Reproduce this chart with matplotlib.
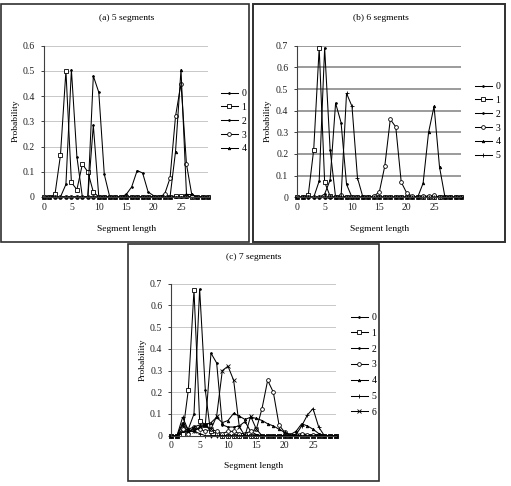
import numpy as np
import matplotlib
matplotlib.use('Agg')
import matplotlib.pyplot as plt
from matplotlib.patches import Rectangle

plt.rcParams['font.family'] = ['Liberation Serif', 'DejaVu Serif']
plt.rcParams['font.size'] = 6

# ---- data ----
x_ab = np.arange(0, 31)   # panels (a) and (b)
x_c = np.arange(0, 30)    # panel (c)

# (a) 5 segments
a0 = [0, 0, 0, 0, 0.05, 0.505, 0.16, 0, 0, 0.285, 0, 0, 0, 0, 0, 0, 0, 0, 0, 0, 0, 0, 0, 0, 0, 0, 0, 0, 0, 0, 0]
a1 = [0, 0, 0.01, 0.165, 0.5, 0.058, 0.029, 0.13, 0.10, 0.02, 0, 0, 0, 0, 0, 0, 0, 0, 0, 0, 0, 0, 0, 0, 0.005, 0.005, 0.005, 0, 0, 0, 0]
a2 = [0, 0, 0, 0, 0, 0, 0, 0, 0, 0.48, 0.415, 0.09, 0, 0, 0, 0.01, 0.04, 0.105, 0.095, 0.02, 0.005, 0, 0.01, 0, 0, 0, 0, 0, 0, 0, 0]
a3 = [0, 0, 0, 0, 0, 0, 0, 0, 0, 0, 0, 0, 0, 0, 0, 0, 0, 0, 0, 0, 0, 0, 0.01, 0.075, 0.32, 0.45, 0.13, 0.005, 0, 0, 0]
a4 = [0, 0, 0, 0, 0, 0, 0, 0, 0, 0, 0, 0, 0, 0, 0, 0, 0, 0, 0, 0, 0, 0, 0, 0, 0.18, 0.505, 0.01, 0.01, 0, 0, 0]

# (b) 6 segments
b0 = [0, 0, 0, 0, 0.075, 0.69, 0.22, 0, 0, 0, 0, 0, 0, 0, 0, 0, 0, 0, 0, 0, 0, 0, 0, 0, 0, 0, 0, 0, 0, 0, 0]
b1 = [0, 0, 0.01, 0.22, 0.69, 0.07, 0.005, 0, 0, 0, 0, 0, 0, 0, 0, 0, 0, 0, 0, 0, 0, 0, 0, 0, 0, 0, 0, 0, 0, 0, 0]
b2 = [0, 0, 0, 0, 0, 0.015, 0.08, 0.435, 0.345, 0.06, 0, 0, 0, 0, 0, 0, 0, 0, 0, 0, 0, 0, 0, 0, 0, 0, 0, 0, 0, 0, 0]
b3 = [0, 0, 0, 0, 0, 0, 0, 0, 0.01, 0, 0, 0, 0, 0, 0.005, 0.025, 0.145, 0.36, 0.325, 0.07, 0.02, 0.005, 0, 0.005, 0.005, 0.01, 0, 0, 0, 0, 0]
b4 = [0, 0, 0, 0, 0, 0, 0, 0, 0, 0, 0, 0, 0, 0, 0, 0, 0, 0, 0, 0, 0, 0, 0, 0.065, 0.30, 0.42, 0.14, 0, 0, 0, 0]
b5 = [0, 0, 0, 0, 0, 0, 0, 0, 0, 0.48, 0.42, 0.09, 0, 0, 0, 0, 0, 0, 0, 0, 0, 0, 0, 0, 0, 0, 0, 0, 0, 0, 0]

# (c) 7 segments
c0 = [0, 0, 0.02, 0.03, 0.10, 0.675, 0.21, 0, 0, 0, 0, 0, 0, 0, 0, 0, 0, 0, 0, 0, 0, 0, 0, 0, 0, 0, 0, 0, 0, 0]
c1 = [0, 0, 0.01, 0.21, 0.67, 0.07, 0.05, 0.02, 0.01, 0, 0, 0, 0, 0, 0, 0, 0, 0, 0, 0, 0, 0, 0, 0, 0, 0, 0, 0, 0, 0]
c2 = [0, 0, 0.02, 0.02, 0.03, 0.03, 0.05, 0.38, 0.335, 0.05, 0.04, 0.04, 0.045, 0.065, 0.02, 0.005, 0, 0, 0, 0, 0, 0, 0, 0, 0, 0, 0, 0, 0, 0]
c3 = [0, 0, 0.03, 0.01, 0.04, 0.03, 0.02, 0.03, 0.02, 0.01, 0.02, 0.02, 0.01, 0.01, 0.02, 0.03, 0.125, 0.255, 0.2, 0.05, 0.015, 0.005, 0.005, 0.01, 0.005, 0.005, 0.005, 0, 0, 0]
c4 = [0, 0, 0.06, 0.03, 0.04, 0.05, 0.05, 0.06, 0.085, 0.06, 0.07, 0.103, 0.09, 0.075, 0.085, 0.08, 0.07, 0.055, 0.045, 0.03, 0.015, 0.005, 0.02, 0.055, 0.045, 0.03, 0.01, 0, 0, 0]
c5 = [0, 0, 0.085, 0.025, 0.02, 0.01, 0, 0, 0, 0, 0, 0, 0, 0, 0, 0, 0, 0, 0, 0, 0, 0, 0.005, 0.045, 0.095, 0.125, 0.04, 0, 0, 0]
c6 = [0, 0, 0.05, 0.02, 0.02, 0.04, 0.05, 0.03, 0.09, 0.30, 0.32, 0.255, 0.04, 0.0, 0.09, 0.03, 0, 0, 0, 0, 0, 0, 0, 0, 0, 0, 0, 0, 0, 0]

labels = ['0', '1', '2', '3', '4', '5', '6']
markers = ['.', 's', '.', 'o', '^', '+', 'x']
msizes = [2.5, 2.7, 2.5, 2.7, 1.8, 3.5, 3]

W, H = 511, 486
fig = plt.figure(figsize=(W / 100, H / 100), dpi=100)


def px_axes(x0, x1, ytop, ybot):
    # pixel box (from top-left) -> figure axes
    return fig.add_axes([x0 / W, 1 - ybot / H, (x1 - x0) / W, (ybot - ytop) / H])


def px(x, y):
    return x / W, 1 - y / H


def style(ax, x, series, ymax, xmax, grid_col, grid_lw):
    for i, s in enumerate(series):
        mfc = 'white' if markers[i] in ('s', 'o') else 'black'
        ax.plot(x, s, color='black', lw=0.75, marker=markers[i], ms=msizes[i],
                mfc=mfc, mec='black', mew=0.6, label=labels[i], clip_on=False)
    ax.set_xlim(0, xmax)
    ax.set_ylim(0, ymax)
    ax.set_yticks(np.arange(0, ymax + 0.001, 0.1))
    ax.set_yticklabels(['0'] + ['%.1f' % v for v in np.arange(0.1, ymax + 0.001, 0.1)])
    ax.set_xticks([0, 5, 10, 15, 20, 25])
    ax.yaxis.grid(True, color=grid_col, lw=grid_lw)
    ax.set_axisbelow(True)
    for sp in ['top', 'right']:
        ax.spines[sp].set_visible(False)
    ax.spines['left'].set_color('#404040')
    ax.spines['bottom'].set_color('#404040')
    ax.spines['left'].set_linewidth(0.8)
    ax.spines['bottom'].set_linewidth(0.8)
    ax.tick_params(axis='y', length=2.5, width=0.6)
    ax.tick_params(axis='x', length=0)
    ax.tick_params(labelsize=7, pad=4, colors='#202020')


def add_legend(ax, x, y, spacing):
    leg = ax.legend(loc='upper left', bbox_to_anchor=px(x, y), bbox_transform=fig.transFigure,
                    frameon=False, borderpad=0, borderaxespad=0, handlelength=1.7,
                    handletextpad=0.4, labelspacing=spacing, fontsize=7)
    leg.set_zorder(10)


# panel frames
for (x0, y0, x1, y1, lw) in [(1, 4, 249, 242, 1.2), (253, 4, 505, 242, 1.4), (128, 244, 379, 481, 1.2)]:
    fig.patches.append(Rectangle(px(x0, y1), (x1 - x0) / W, (y1 - y0) / H,
                                 transform=fig.transFigure, fill=False,
                                 edgecolor='#303030', lw=lw, zorder=0))

# (a)
ax_a = px_axes(44, 208.4, 45.7, 197)
style(ax_a, x_ab, [a0, a1, a2, a3, a4], 0.6, 30, '#c8c8c8', 0.7)
add_legend(ax_a, 221, 89, 0.5)
fig.text(*px(127, 18), '(a) 5 segments', ha='center', va='center', fontsize=6.8)
fig.text(*px(16, 121), 'Probability', ha='center', va='center', rotation=90, fontsize=6.8)
fig.text(*px(127, 229), 'Segment length', ha='center', va='center', fontsize=6.8)

# (b)
ax_b = px_axes(297.3, 461.4, 45.7, 197.3)
style(ax_b, x_ab, [b0, b1, b2, b3, b4, b5], 0.7, 30, '#808080', 1.1)
add_legend(ax_b, 475, 82, 0.5)
fig.text(*px(381, 18), '(b) 6 segments', ha='center', va='center', fontsize=6.8)
fig.text(*px(268, 121), 'Probability', ha='center', va='center', rotation=90, fontsize=6.8)
fig.text(*px(380, 229), 'Segment length', ha='center', va='center', fontsize=6.8)

# (c)
ax_c = px_axes(171.3, 335.7, 283.7, 435.7)
style(ax_c, x_c, [c0, c1, c2, c3, c4, c5, c6], 0.7, 29, '#c8c8c8', 0.7)
add_legend(ax_c, 351, 313, 0.7)
fig.text(*px(254, 257), '(c) 7 segments', ha='center', va='center', fontsize=6.8)
fig.text(*px(143, 360), 'Probability', ha='center', va='center', rotation=90, fontsize=6.8)
fig.text(*px(254, 466), 'Segment length', ha='center', va='center', fontsize=6.8)

fig.savefig('out.png', dpi=100)
